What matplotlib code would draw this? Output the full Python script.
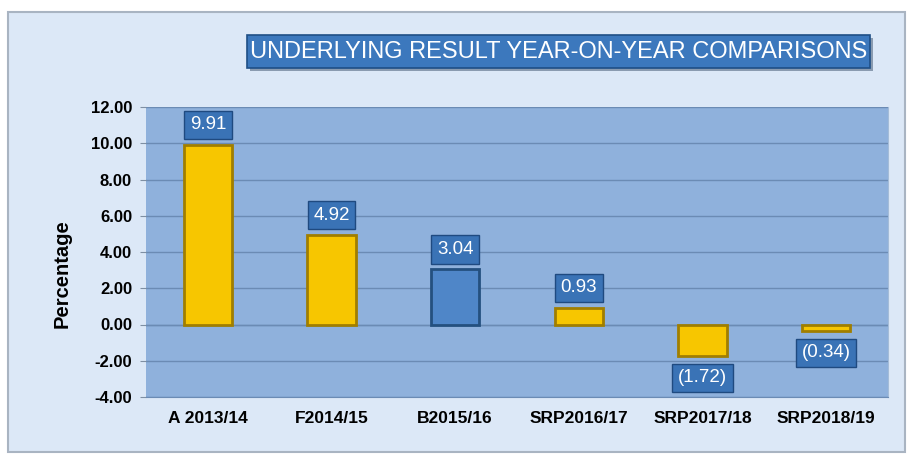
import matplotlib
matplotlib.use("Agg")
import matplotlib.pyplot as plt
from matplotlib.patches import FancyBboxPatch
from matplotlib import font_manager as fm
import numpy as np

categories = ["A 2013/14", "F2014/15", "B2015/16", "SRP2016/17", "SRP2017/18", "SRP2018/19"]
values = [9.91, 4.92, 3.04, 0.93, -1.72, -0.34]
labels = ["9.91", "4.92", "3.04", "0.93", "(1.72)", "(0.34)"]
bar_colors = ["#f7c600", "#f7c600", "#4f86c8", "#f7c600", "#f7c600", "#f7c600"]
edge_colors = ["#a07e00", "#a07e00", "#24507f", "#a07e00", "#a07e00", "#a07e00"]
yticks = [-4, -2, 0, 2, 4, 6, 8, 10, 12]
title = "UNDERLYING RESULT YEAR-ON-YEAR COMPARISONS"

names = {f.name for f in fm.fontManager.ttflist}
narrow = "Liberation Sans Narrow" if "Liberation Sans Narrow" in names else "Liberation Sans"
plt.rcParams["font.family"] = ["Liberation Sans", "DejaVu Sans"]

W, H = 909, 455
fig = plt.figure(figsize=(W / 100, H / 100), dpi=100)
fig.patch.set_facecolor("white")

# outer panel
panel = FancyBboxPatch((8 / W, 3 / H), (897 / W), (440 / H),
                       boxstyle="square,pad=0", transform=fig.transFigure,
                       facecolor="#dce8f7", edgecolor="#a9b4c2", linewidth=1.5, zorder=-2)
fig.patches.append(panel)

# title box with shadow
sh = FancyBboxPatch((250 / W, 1 - 71 / H), (623 / W), (33 / H),
                    boxstyle="square,pad=0", transform=fig.transFigure,
                    facecolor="#8a9bb0", edgecolor="none", zorder=-1)
fig.patches.append(sh)
tb = FancyBboxPatch((247 / W, 1 - 68 / H), (623 / W), (33 / H),
                    boxstyle="square,pad=0", transform=fig.transFigure,
                    facecolor="#3c78bd", edgecolor="#1f4f86", linewidth=1.2, zorder=-1)
fig.patches.append(tb)
fig.text(558.5 / W, 1 - 51.5 / H, title, ha="center", va="center",
         color="white", fontsize=17, family=[narrow, "DejaVu Sans"], zorder=2)

ax = fig.add_axes([146 / W, 1 - 397 / H, 742 / W, 290 / H])
ax.set_zorder(1)
ax.set_facecolor("#8fb1dc")
x = np.arange(len(categories))
ax.bar(x, values, width=0.39, color=bar_colors, edgecolor=edge_colors, linewidth=2, zorder=3)

ax.set_xlim(-0.5, len(categories) - 0.5)
ax.set_ylim(-4, 12)
ax.set_yticks(yticks)
ax.set_yticklabels([f"{v:.2f}" for v in yticks], fontweight="bold", fontsize=12)
ax.set_xticks(x)
ax.set_xticklabels(categories, fontweight="bold", fontsize=12.5)
ax.tick_params(axis="x", length=0, pad=10)
ax.tick_params(axis="y", length=4, color="#7f8fa3", pad=6)
ax.grid(axis="y", color="#6b8bb4", linewidth=1.0, zorder=1)
ax.axhline(0, color="#6b8bb4", linewidth=1.0, zorder=2)
for s in ax.spines.values():
    s.set_visible(False)
ax.spines["bottom"].set_visible(True)
ax.spines["bottom"].set_color("#6b8bb4")
ax.spines["right"].set_visible(True)
ax.spines["right"].set_color("#a4bcd8")
ax.set_ylabel("Percentage", fontweight="bold", fontsize=14.5)
ax.yaxis.set_label_coords((72 - 146) / 742, (397 - 274) / 290)

for xi, v, lab in zip(x, values, labels):
    off = 20 if v >= 0 else -22
    ax.annotate(lab, (xi, v), xytext=(0, off * 0.72), textcoords="offset points",
                ha="center", va="center", color="white", fontsize=13.5, zorder=5,
                bbox=dict(boxstyle="square,pad=0.3", facecolor="#3a73b6",
                          edgecolor="#1f4a80", linewidth=1.0))

fig.savefig("out.png", dpi=100, facecolor=fig.get_facecolor())
